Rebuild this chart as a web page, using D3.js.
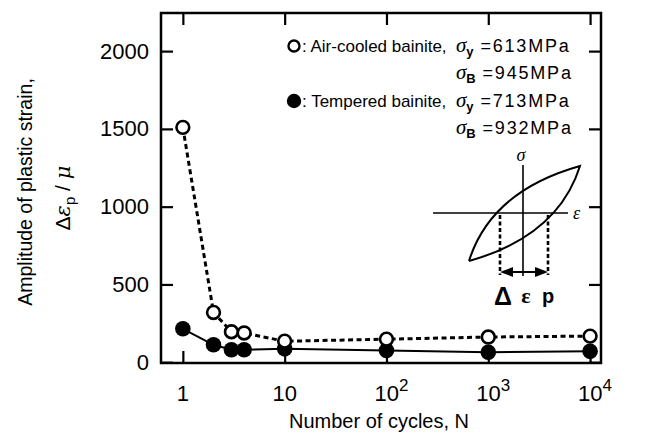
<!DOCTYPE html>
<html>
<head>
<meta charset="utf-8">
<script src="https://cdn.jsdelivr.net/npm/d3@7/dist/d3.min.js"></script>
<style>
  body { margin: 0; background: #fff; }
  svg { display: block; font-family: "Liberation Sans", Arial, sans-serif; }
</style>
</head>
<body>
<div class="vis"></div>
<script>
// data
const cycles = [1, 2, 3, 4, 10, 100, 1000, 10000];
const airCooled = [1510, 320, 196, 188, 135, 148, 162, 168];
const tempered = [215, 112, 80, 80, 86, 76, 64, 70];
const yTicks = [0, 500, 1000, 1500, 2000];
const xTicks = [1, 10, 100, 1000, 10000];
const xTickLabels = [["1", ""], ["10", ""], ["10", "2"], ["10", "3"], ["10", "4"]];

const width = 651, height = 434;
const margin = {top: 13, right: 50, bottom: 71, left: 161};

const svg = d3.select('.vis')
    .append('svg')
    .attr('width', width)
    .attr('height', height);

const x = d3.scaleLog()
    .domain([0.61, 12800])
    .range([margin.left, width - margin.right]);
const y = d3.scaleLinear()
    .domain([-5, 2245])
    .range([height - margin.bottom, margin.top]);

const x0 = margin.left, x1 = width - margin.right;
const y0 = height - margin.bottom, y1 = margin.top;
const tickLen = 12;

// axes (ticks point inward on all four sides)
const gLeft = svg.append("g")
    .attr("transform", `translate(${x0},0)`)
    .call(d3.axisLeft(y).tickValues(yTicks).tickFormat(d3.format("d"))
        .tickSizeInner(-tickLen).tickSizeOuter(0).tickPadding(12));
const gRight = svg.append("g")
    .attr("transform", `translate(${x1},0)`)
    .call(d3.axisRight(y).tickValues(yTicks).tickSizeInner(-tickLen).tickSizeOuter(0).tickFormat(""));
const gBottom = svg.append("g")
    .attr("transform", `translate(0,${y0})`)
    .call(d3.axisBottom(x).tickValues(xTicks).tickSizeInner(-tickLen).tickSizeOuter(0).tickFormat(""));
const gTop = svg.append("g")
    .attr("transform", `translate(0,${y1})`)
    .call(d3.axisTop(x).tickValues(xTicks).tickSizeInner(-tickLen).tickSizeOuter(0).tickFormat(""));

[gLeft, gRight, gBottom, gTop].forEach(g => {
    g.select(".domain").remove();
    g.selectAll(".tick line").attr("stroke", "#000").attr("stroke-width", 2.2);
});
gLeft.selectAll(".tick text")
    .attr("font-size", 22).attr("fill", "#000")
    .attr("font-family", "'Liberation Sans', Arial, sans-serif");

// frame
svg.append("rect")
    .attr("x", x0).attr("y", y1)
    .attr("width", x1 - x0).attr("height", y0 - y1)
    .attr("fill", "none").attr("stroke", "#000").attr("stroke-width", 2.5);

// x tick labels with superscripts
const xl = svg.append("g").attr("font-size", 22);
xTicks.forEach((t, i) => {
    const txt = xl.append("text")
        .attr("x", x(t) + (xTickLabels[i][1] ? 5 : 0))
        .attr("y", 401)
        .attr("text-anchor", "middle");
    txt.append("tspan").text(xTickLabels[i][0]);
    if (xTickLabels[i][1]) {
        txt.append("tspan").attr("dy", -10).attr("font-size", 17).text(xTickLabels[i][1]);
    }
});

// axis titles
svg.append("text")
    .attr("x", (x0 + x1) / 2 - 2).attr("y", 428)
    .attr("text-anchor", "middle").attr("font-size", 20)
    .text("Number of cycles, N");

svg.append("text")
    .attr("transform", "translate(32,192) rotate(-90)")
    .attr("text-anchor", "middle").attr("font-size", 19.5)
    .text("Amplitude of plastic strain,");

const yt2 = svg.append("text")
    .attr("transform", "translate(70,198) rotate(-90)")
    .attr("text-anchor", "middle").attr("font-size", 21);
yt2.append("tspan").text("Δ");
yt2.append("tspan").attr("font-family", "'DejaVu Serif', serif").attr("font-style", "italic").text("ε");
yt2.append("tspan").attr("dy", 5).attr("font-size", 15).text("p");
yt2.append("tspan").attr("dy", -5).text(" / ");
yt2.append("tspan").attr("font-family", "'DejaVu Serif', serif").attr("font-style", "italic").text("μ");

// series
const pts = s => cycles.map((c, i) => [c, s[i]]);
const line = d3.line().x(d => x(d[0])).y(d => y(d[1]));

svg.append("path")
    .datum(pts(tempered))
    .attr("d", line)
    .attr("fill", "none").attr("stroke", "#000").attr("stroke-width", 2);

svg.append("path")
    .datum(pts(airCooled))
    .attr("d", line)
    .attr("fill", "none").attr("stroke", "#000").attr("stroke-width", 3)
    .attr("stroke-dasharray", "5,3.5");

svg.append("g").selectAll("circle")
    .data(pts(tempered))
    .join("circle")
    .attr("cx", d => x(d[0])).attr("cy", d => y(d[1]))
    .attr("r", 7.8).attr("fill", "#000");

svg.append("g").selectAll("circle")
    .data(pts(airCooled))
    .join("circle")
    .attr("cx", d => x(d[0])).attr("cy", d => y(d[1]))
    .attr("r", 6.4).attr("fill", "#fff").attr("stroke", "#000").attr("stroke-width", 2.6);

// legend
const legend = svg.append("g").attr("font-size", 17);
function sigmaText(g, xx, yy, sub, val) {
    const t = g.append("text").attr("x", xx).attr("y", yy);
    t.append("tspan").attr("font-family", "'Liberation Serif', 'Times New Roman', serif")
        .attr("font-style", "italic").attr("font-size", 21).text("σ");
    t.append("tspan").attr("dy", 4).attr("font-size", 13).attr("font-weight", "bold").text(sub);
    t.append("tspan").attr("dy", -4).attr("font-size", 18).attr("letter-spacing", 1.8).text(" =" + val);
}
legend.append("circle").attr("cx", 294).attr("cy", 46).attr("r", 5.5)
    .attr("fill", "#fff").attr("stroke", "#000").attr("stroke-width", 2.4);
legend.append("text").attr("x", 302).attr("y", 52).text(": Air-cooled bainite,");
sigmaText(legend, 456, 52, "y", "613MPa");
sigmaText(legend, 456, 79, "B", "945MPa");

legend.append("circle").attr("cx", 294).attr("cy", 101).attr("r", 7.2).attr("fill", "#000");
legend.append("text").attr("x", 302).attr("y", 107).text(": Tempered bainite,");
sigmaText(legend, 456, 107, "y", "713MPa");
sigmaText(legend, 456, 134, "B", "932MPa");

// inset: schematic hysteresis loop
const inset = svg.append("g").attr("transform", "translate(523,213)")
    .attr("fill", "none").attr("stroke", "#000");
inset.append("line").attr("x1", -90).attr("x2", 45).attr("y1", 0).attr("y2", 0).attr("stroke-width", 1.6);
inset.append("line").attr("x1", 0).attr("x2", 0).attr("y1", -48).attr("y2", 63).attr("stroke-width", 1.6);

const tipA = [-54, 48], tipB = [57, -47];
const loop = d3.path();
loop.moveTo(...tipA);
loop.quadraticCurveTo(-32, -22, ...tipB);
loop.quadraticCurveTo(35, 23, ...tipA);
inset.append("path").attr("d", loop.toString()).attr("stroke-width", 2);

[-23, 25].forEach(px => {
    inset.append("line").attr("x1", px).attr("x2", px).attr("y1", 2).attr("y2", 62)
        .attr("stroke-width", 2.6).attr("stroke-dasharray", "4,2.5");
});
inset.append("line").attr("x1", -14).attr("x2", 16).attr("y1", 59).attr("y2", 59).attr("stroke-width", 2);
inset.append("path").attr("d", "M-23,59 L-10,54 L-10,64 Z").attr("fill", "#000").attr("stroke", "none");
inset.append("path").attr("d", "M25,59 L12,54 L12,64 Z").attr("fill", "#000").attr("stroke", "none");

const it = inset.append("g").attr("fill", "#000").attr("stroke", "none");
it.append("text").attr("x", -2).attr("y", -52).attr("text-anchor", "middle")
    .attr("font-family", "'Liberation Serif', serif").attr("font-style", "italic").attr("font-size", 18).text("σ");
it.append("text").attr("x", 50).attr("y", 6).attr("font-family", "'Liberation Serif', serif")
    .attr("font-style", "italic").attr("font-size", 18).text("ε");
it.append("text").attr("x", -20).attr("y", 92).attr("text-anchor", "middle")
    .attr("font-size", 25).attr("font-weight", "bold").text("Δ");
it.append("text").attr("x", 3).attr("y", 90).attr("text-anchor", "middle")
    .attr("font-family", "'Liberation Serif', serif").attr("font-size", 22).attr("font-weight", "bold").text("ε");
it.append("text").attr("x", 25).attr("y", 90).attr("text-anchor", "middle")
    .attr("font-size", 20).attr("font-weight", "bold").text("p");
</script>
</body>
</html>
